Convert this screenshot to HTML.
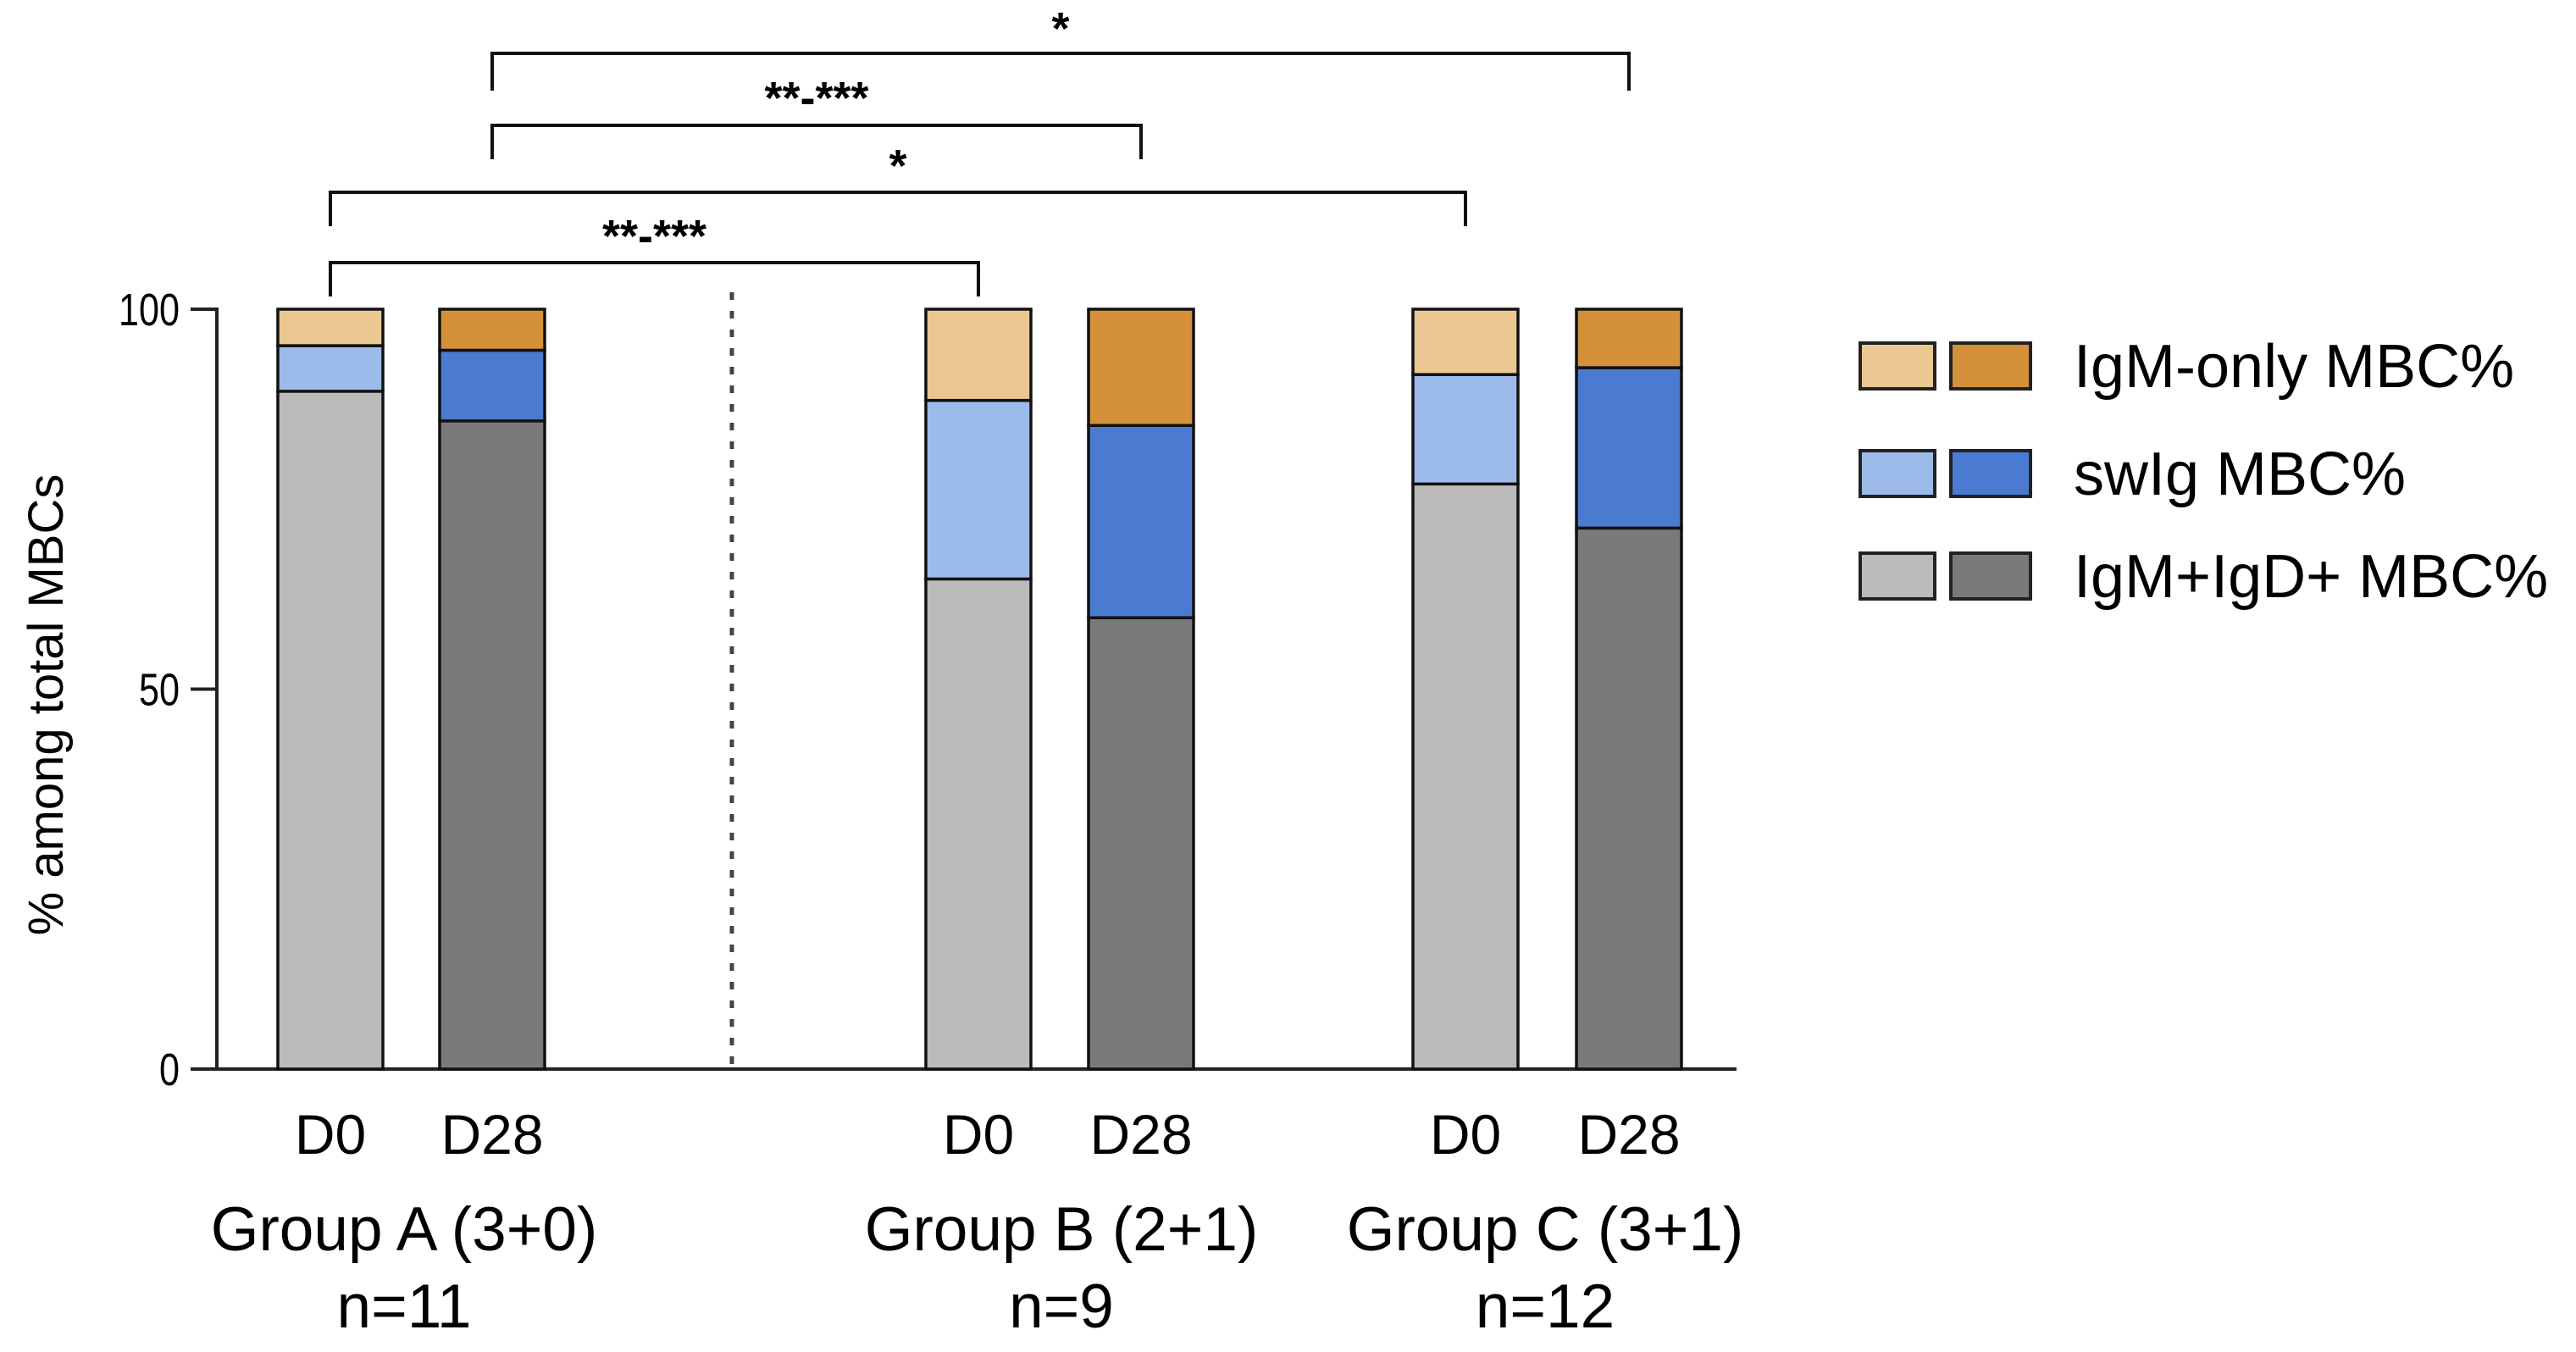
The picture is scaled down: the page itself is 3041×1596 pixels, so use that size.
<!DOCTYPE html>
<html><head><meta charset="utf-8"><style>
html,body{margin:0;padding:0;background:#fff}
svg{display:block}
text{font-family:"Liberation Sans",Arial,sans-serif;fill:#000}
</style></head><body>
<svg id="chart" width="3041" height="1596" viewBox="0 0 3041 1596" xmlns="http://www.w3.org/2000/svg">
<g id="axes"></g><g id="bars"></g><g id="sig"></g><g id="legend"></g>
</svg>
<script>
const categories = ["A-D0","A-D28","B-D0","B-D28","C-D0","C-D28"];
const igmIgdValues = [89.2, 85.3, 64.5, 59.4, 77.0, 71.2];
const swigValues = [6.0, 9.3, 23.5, 25.3, 14.4, 21.1];
const igmOnlyValues = [4.8, 5.4, 12.0, 15.3, 8.6, 7.7];
const yTicks = [0, 50, 100];
const dayLabels = ["D0","D28","D0","D28","D0","D28"];
const groupLabels = ["Group A (3+0)","Group B (2+1)","Group C (3+1)"];
const nLabels = ["n=11","n=9","n=12"];
const sigLabels = ["*","**-***","*","**-***"];
const sigPairs = [[1,5],[1,3],[0,4],[0,2]];
const legendLabels = ["IgM-only MBC%","swIg MBC%","IgM+IgD+ MBC%"];

const NS="http://www.w3.org/2000/svg";
const y0=1262, y100=365;
const y = v => y0 - (v/100)*(y0-y100);
const barCenters=[390,581,1155,1347,1730,1923];
const barW=124;
const x = i => barCenters[i];
function mk(tag, attrs, parent){const e=document.createElementNS(NS,tag);for(const k in attrs)e.setAttribute(k,attrs[k]);parent.appendChild(e);return e;}
const axes=document.getElementById('axes'), bars=document.getElementById('bars'), sig=document.getElementById('sig'), leg=document.getElementById('legend');

let e=mk('line',{x1:256,y1:y100-2,x2:256,y2:y0,stroke:'#222','stroke-width':4},axes);


e=mk('line',{x1:225,y1:y0,x2:2050,y2:y0,stroke:'#222','stroke-width':4},axes);


yTicks.forEach(t=>{
  let l=mk('line',{x1:225,y1:y(t),x2:256,y2:y(t),stroke:'#222','stroke-width':4},axes);
  
  
  let tx=mk('text',{x:212,y:y(t)+19,'text-anchor':'end','font-size':54,'transform-origin':`212px ${y(t)}px`,transform:'scale(0.8,1)'},axes);
  tx.textContent=t;
  
  
});
e=mk('text',{x:0,y:0,'text-anchor':'middle','font-size':58,transform:'translate(74,832) rotate(-90)'},axes);
e.textContent='% among total MBCs';


e=mk('line',{x1:864,y1:345,x2:864,y2:1262,stroke:'#444','stroke-width':5,'stroke-dasharray':'9 13'},axes);



dayLabels.forEach((d,i)=>{
  let t=mk('text',{x:x(i),y:1362,'text-anchor':'middle','font-size':66},axes);
  t.textContent=d;
  
  
});
const groupCx=[477,1253,1824];
groupLabels.forEach((g,i)=>{
  const cx=groupCx[i];
  let t=mk('text',{x:cx,y:1476,'text-anchor':'middle','font-size':73},axes);
  t.textContent=g;
  
  
  let n=mk('text',{x:cx,y:1567,'text-anchor':'middle','font-size':73},axes);
  n.textContent=nLabels[i];
  
  
});

const lightCols=['#BBBBBB','#9DBBEA','#EBC792'], darkCols=['#7A7A7A','#4A7BD0','#D4913A'];
categories.forEach((c,i)=>{
  const cols = i%2==0 ? lightCols : darkCols;
  const segs=[igmIgdValues[i], swigValues[i], igmOnlyValues[i]];
  const names=['bar-igm-igd-','bar-swig-','bar-igm-only-'];
  let base=0;
  segs.forEach((v,k)=>{
    const top=base+v;
    let r=mk('rect',{x:x(i)-barW/2,y:y(top),width:barW,height:y(base)-y(top),fill:cols[k],stroke:'#111','stroke-width':3.5},bars);
    
    
    base=top;
  });
});

const brY=[63,148,227,310], brDrop=[44,40,40,40], labY=[52,134,214,297];
sigPairs.forEach((p,k)=>{
  const xa=x(p[0]), xb=x(p[1]);
  let pl=mk('polyline',{points:`${xa},${brY[k]+brDrop[k]} ${xa},${brY[k]} ${xb},${brY[k]} ${xb},${brY[k]+brDrop[k]}`,fill:'none',stroke:'#111','stroke-width':4},sig);
  
  
  let t=mk('text',{x:(xa+xb)/2,y:labY[k],'text-anchor':'middle','font-size':54,'font-weight':'bold'},sig);
  t.textContent=sigLabels[k];
  
  
});

const legY=[405,532,653];
legendLabels.forEach((l,k)=>{
  const ci=2-k;
  let a=mk('rect',{x:2196,y:legY[k],width:88,height:54,fill:lightCols[ci],stroke:'#222','stroke-width':4},leg);
  
  
  let b=mk('rect',{x:2303,y:legY[k],width:94,height:54,fill:darkCols[ci],stroke:'#222','stroke-width':4},leg);
  
  
  let t=mk('text',{x:2448,y:legY[k]+52,'font-size':72},leg);
  t.textContent=l;
  
  
});
</script>
</body></html>
